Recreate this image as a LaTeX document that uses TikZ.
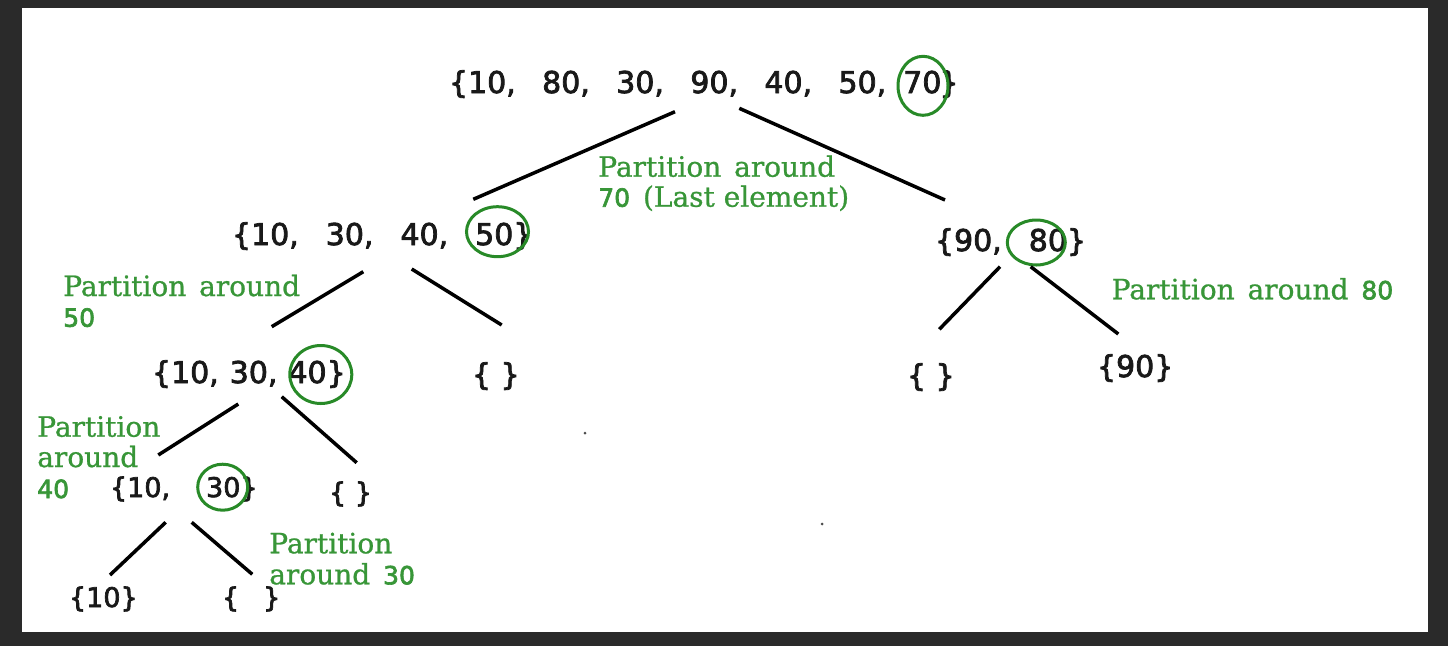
\documentclass[tikz,border=0pt]{standalone}
\usepackage{fontspec}
\setmainfont{DejaVu Sans}
\newfontfamily\sansg[FakeBold=2.5]{DejaVu Sans}
\newfontfamily\serifg[FakeBold=0.8]{DejaVu Serif}
\usetikzlibrary{shapes.geometric}
\definecolor{bgdark}{RGB}{42,42,42}
\definecolor{labgreen}{RGB}{56,150,56}
\definecolor{ringgreen}{RGB}{40,138,40}
\tikzset{
  setnode/.style={anchor=base west, inner sep=0pt, outer sep=0pt, text=black!90, font=\sansg\fontsize{30}{36}\selectfont},
  smallset/.style={setnode, font=\sansg\fontsize{27}{32}\selectfont},
  pivot/.style={ellipse, draw=ringgreen, line width=3pt, inner sep=0pt},
  edge/.style={draw=black, line width=3.5pt},
  labword/.style={anchor=base west, inner sep=0pt, outer sep=0pt, text=labgreen, font=\serifg\fontsize{28}{34}\selectfont},
  speck/.style={fill=black!70, draw=none},
}
\newcommand{\gnum}[1]{{\sansg\fontsize{25}{30}\selectfont #1}}
\begin{document}
\begin{tikzpicture}[x=1pt,y=-1pt]
\useasboundingbox (0,0) rectangle (1448,646);
\fill[bgdark] (0,0) rectangle (1448,646);
\fill[white] (22,8) rectangle (1428,632);

% sets
\node[setnode] (root) at (449,93) {\{10,\hspace{26.4pt}80,\hspace{26.4pt}30,\hspace{26.4pt}90,\hspace{26.4pt}40,\hspace{26.4pt}50,\hspace{17pt}70\hspace{-2pt}\}};
\node[setnode] (L1) at (232,245) {\{10,\hspace{27pt}30,\hspace{27pt}40,\hspace{27pt}50\}};
\node[setnode] (R1) at (935,251) {\{90,\hspace{27pt}80\}};
\node[setnode] (L2) at (152,383) {\{10,\hspace{11pt}30,\hspace{11pt}40\}};
\node[setnode] (E1) at (472,385) {\{ \}};
\node[setnode] (E2) at (907,386) {\{ \}};
\node[setnode] (N90) at (1097,377) {\{90\}};
\node[smallset] (L3) at (110,497) {\{10,\hspace{36pt}30\}};
\node[smallset] (E3) at (329,502) {\{ \}};
\node[smallset] (N10) at (69,607) {\{10\}};
\node[smallset] (E4) at (222,607) {\{\hspace{24pt}\}};

% pivot rings
\node[pivot, minimum width=50pt, minimum height=59pt] (c70) at (923,85.8) {};
\node[pivot, minimum width=62pt, minimum height=50pt] (c50) at (497.5,231.7) {};
\node[pivot, minimum width=62pt, minimum height=58pt] (c40) at (320.8,374.5) {};
\node[pivot, minimum width=58pt, minimum height=45pt] (c80) at (1036.3,242.5) {};
\node[pivot, minimum width=50pt, minimum height=46pt] (c30) at (222.7,487.2) {};

% connector end points
\coordinate (rootA) at (675,111.7);   \coordinate (L1top) at (473.3,199.3);
\coordinate (rootB) at (739.3,108.3); \coordinate (R1top) at (945,200);
\coordinate (L1A) at (363.3,271.7);   \coordinate (L2top) at (271.7,326.7);
\coordinate (L1B) at (411.7,269);     \coordinate (E1top) at (501.7,325);
\coordinate (R1A) at (1000,266.7);    \coordinate (E2top) at (939.3,329.3);
\coordinate (R1B) at (1030.7,266.7);  \coordinate (N90top) at (1118.3,334);
\coordinate (L2A) at (238.3,404);     \coordinate (L3top) at (158.3,455);
\coordinate (L2B) at (281.7,396.7);   \coordinate (E3top) at (356.7,462.7);
\coordinate (L3A) at (165.7,522.3);   \coordinate (N10top) at (110,575);
\coordinate (L3B) at (191.7,522.3);   \coordinate (E4top) at (252.3,574.3);

\draw[edge] (rootA) -- (L1top);
\draw[edge] (rootB) -- (R1top);
\draw[edge] (L1A) -- (L2top);
\draw[edge] (L1B) -- (E1top);
\draw[edge] (R1A) -- (E2top);
\draw[edge] (R1B) -- (N90top);
\draw[edge] (L2A) -- (L3top);
\draw[edge] (L2B) -- (E3top);
\draw[edge] (L3A) -- (N10top);
\draw[edge] (L3B) -- (E4top);

% labels
\node[labword] (p70a) at (598.3,176.7) {Partition\hspace{4pt} around};
\node[labword] (p70b) at (598.3,206.7) {\gnum{70}\hspace{4pt} (Last element)};
\node[labword] (p50a) at (63.3,296) {Partition\hspace{4pt} around};
\node[labword] (p50b) at (63.3,326.7) {\gnum{50}};
\node[labword] (p80) at (1111.7,299.3) {Partition\hspace{4pt} around\hspace{4pt} \gnum{80}};
\node[labword] (p40a) at (37.3,436.7) {Partition};
\node[labword] (p40b) at (37.3,467) {around};
\node[labword] (p40c) at (37.3,498) {\gnum{40}};
\node[labword] (p30a) at (269.3,553.3) {Partition};
\node[labword] (p30b) at (269.3,584.3) {around\hspace{4pt} \gnum{30}};

% specks
\fill[speck] (585,433) circle (1.5pt);
\fill[speck] (822,524) circle (1.5pt);
\end{tikzpicture}
\end{document}
